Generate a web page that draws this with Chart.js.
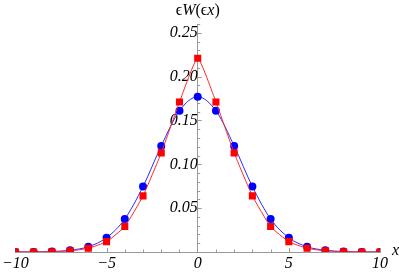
<!DOCTYPE html>
<html>
<head>
<meta charset="utf-8">
<script src="https://cdn.jsdelivr.net/npm/chart.js@4"></script>
<style>
  html, body { margin: 0; padding: 0; background: #fff; }
  canvas { display: block; }
</style>
</head>
<body>
<canvas id="wChart" width="399" height="273"></canvas>
<script>
// data
const xValues = [-10, -9, -8, -7, -6, -5, -4, -3, -2, -1, 0, 1, 2, 3, 4, 5, 6, 7, 8, 9, 10];
const blueValues = [0.0001, 0.0001, 0.0005, 0.002, 0.006, 0.0163, 0.0377, 0.0746, 0.121, 0.161, 0.177,
                    0.161, 0.121, 0.0746, 0.0377, 0.0163, 0.006, 0.002, 0.0005, 0.0001, 0.0001];
const redValues = [0.0001, 0.0001, 0.0003, 0.0013, 0.0042, 0.0118, 0.029, 0.064, 0.113, 0.171, 0.221,
                   0.171, 0.113, 0.064, 0.029, 0.0118, 0.0042, 0.0013, 0.0003, 0.0001, 0.0001];
const xTickLabels = [-10, -5, 0, 5, 10];
const yTickLabels = [0.05, 0.10, 0.15, 0.20, 0.25];

const serif = '"Liberation Serif", "DejaVu Serif", serif';
const axisColor = '#9a9a9a';

// title pieces: [text, italic?]
const yTitle = [['ϵ', false], ['W', true], ['(', false], ['ϵ', false], ['x', true], [')', false]];

// mathematica style tick marks on the axes + axis titles
const tickMarks = {
  id: 'tickMarks',
  beforeDatasetsDraw(chart) {
    const { ctx, scales: { x, y } } = chart;
    const y0 = y.getPixelForValue(0);
    const x0 = x.getPixelForValue(0);
    ctx.save();
    ctx.strokeStyle = axisColor;
    ctx.lineWidth = 1;
    ctx.beginPath();
    for (let i = -10; i <= 10; i++) {
      if (i === 0) continue;
      const px = Math.round(x.getPixelForValue(i)) + 0.5;
      const len = i % 5 === 0 ? 4 : 2.5;
      ctx.moveTo(px, y0);
      ctx.lineTo(px, y0 - len);
    }
    for (let j = 1; j <= 26; j++) {
      const py = Math.round(y.getPixelForValue(j / 100)) + 0.5;
      const len = j % 5 === 0 ? 4 : 2.5;
      ctx.moveTo(x0, py);
      ctx.lineTo(x0 + len, py);
    }
    ctx.stroke();

    // axis titles
    ctx.fillStyle = '#000';
    ctx.textBaseline = 'alphabetic';
    ctx.textAlign = 'left';
    const fontFor = it => (it ? 'italic ' : '') + '16px ' + serif;
    let total = 0;
    yTitle.forEach(([t, it]) => { ctx.font = fontFor(it); total += ctx.measureText(t).width; });
    let cx = x0 - total / 2;
    yTitle.forEach(([t, it]) => {
      ctx.font = fontFor(it);
      ctx.fillText(t, cx, 15);
      cx += ctx.measureText(t).width;
    });
    ctx.font = fontFor(true);
    ctx.fillText('x', x.right + 12, y0 + 3);
    ctx.restore();
  }
};

const ctx = document.getElementById('wChart').getContext('2d');

new Chart(ctx, {
  type: 'line',
  data: {
    labels: xValues,
    datasets: [{
      label: 'red',
      data: xValues.map((v, i) => ({ x: v, y: redValues[i] })),
      borderColor: '#ff2a2a',
      backgroundColor: '#ff0000',
      borderWidth: 1,
      pointStyle: 'rect',
      pointRadius: 5,
      pointBorderWidth: 0,
      tension: 0.15,
      order: 0
    }, {
      label: 'blue',
      data: xValues.map((v, i) => ({ x: v, y: blueValues[i] })),
      borderColor: '#2a2aff',
      backgroundColor: '#0000ff',
      borderWidth: 1,
      pointStyle: 'circle',
      pointRadius: 4,
      pointBorderWidth: 0,
      cubicInterpolationMode: 'monotone',
      order: 1
    }]
  },
  options: {
    responsive: false,
    animation: false,
    layout: { padding: { left: 13, right: 19, top: 24, bottom: 21 } },
    plugins: {
      legend: { display: false },
      tooltip: { enabled: false }
    },
    scales: {
      x: {
        type: 'linear',
        min: -10,
        max: 10,
        position: { y: 0 },
        grid: { display: false, drawTicks: false },
        border: { display: true, color: axisColor, width: 1 },
        afterBuildTicks: s => { s.ticks = xTickLabels.map(v => ({ value: v })); },
        ticks: {
          color: '#000',
          padding: 2,
          maxRotation: 0,
          font: { family: serif, style: 'italic', size: 16 },
          callback: v => (v < 0 ? '\u2212' + Math.abs(v) : String(v))
        }
      },
      y: {
        type: 'linear',
        min: 0,
        max: 0.26,
        position: { x: 0 },
        grid: { display: false, drawTicks: false },
        border: { display: true, color: axisColor, width: 1 },
        afterBuildTicks: s => { s.ticks = yTickLabels.map(v => ({ value: v })); },
        ticks: {
          color: '#000',
          padding: 4,
          font: { family: serif, style: 'italic', size: 16 },
          callback: v => v.toFixed(2)
        }
      }
    }
  },
  plugins: [tickMarks]
});
</script>
</body>
</html>
